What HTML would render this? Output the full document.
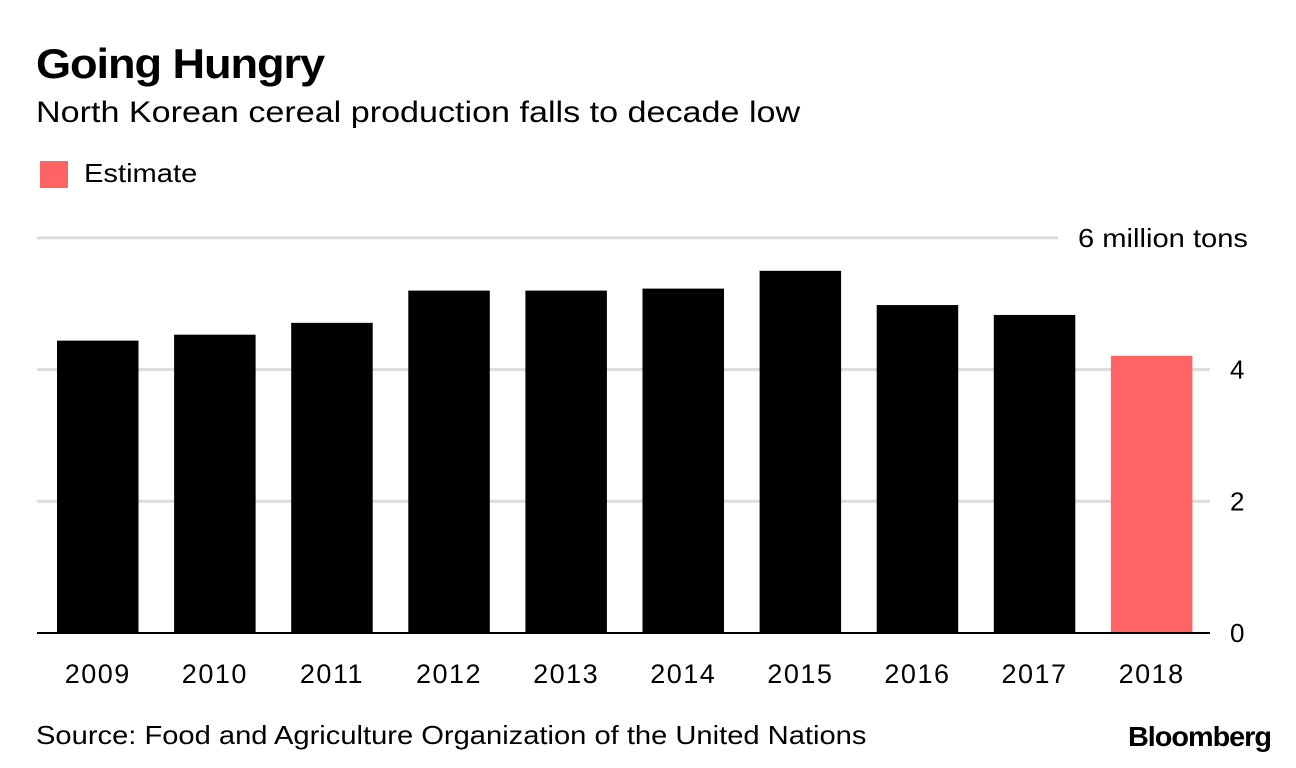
<!DOCTYPE html>
<html><head><meta charset="utf-8"><style>
body{margin:0;background:#fff;font-family:"Liberation Sans",sans-serif;}
#wrap{position:relative;width:1296px;height:768px;overflow:hidden;}
.t{position:absolute;white-space:nowrap;color:#000;transform-origin:0 0;}
</style></head><body>
<div id="wrap">
<div class="t" style="left:36px;top:40px;font-size:42px;font-weight:bold;letter-spacing:-1px;transform:scaleX(1.075);">Going Hungry</div>
<div class="t" style="left:36px;top:96px;font-size:30px;transform:scaleX(1.137);">North Korean cereal production falls to decade low</div>
<div style="position:absolute;left:40px;top:161px;width:28px;height:27px;background:#ff6464;"></div>
<div class="t" style="left:84px;top:158px;font-size:26px;transform:scaleX(1.12);">Estimate</div>
<svg id="chart" width="1296" height="768" style="position:absolute;left:0;top:0"></svg>
<div class="t" style="left:36px;top:720px;font-size:26px;transform:scaleX(1.12);">Source: Food and Agriculture Organization of the United Nations</div>
<div class="t" style="left:1128px;top:721px;font-size:28px;font-weight:bold;letter-spacing:-1px;transform:scaleX(1.03);">Bloomberg</div>
</div>
<script>
const years=["2009","2010","2011","2012","2013","2014","2015","2016","2017","2018"];
const values=[4.44,4.53,4.71,5.20,5.20,5.23,5.50,4.98,4.83,4.21];
const estimate=[false,false,false,false,false,false,false,false,false,true];
const ticks=[0,2,4,6];
const tickLabels=["0","2","4","6 million tons"];
const svg=document.getElementById('chart');
const NS='http://www.w3.org/2000/svg';
const y0=633,pxPer=65.85;
function y(v){return y0-v*pxPer;}
function x(i){return 57+i*117.1;}
const bw=81.5;
function mk(t,a){const e=document.createElementNS(NS,t);for(const k in a)e.setAttribute(k,a[k]);svg.appendChild(e);return e;}
ticks.forEach((t,i)=>{
  if(t>0){const l=mk('line',{x1:37,x2:i===3?1058:1210,y1:y(t),y2:y(t),stroke:'#dcdcdc','stroke-width':3});
  
  }
  const a={x:i===3?1078:1230,y:y(t)+9,'font-size':26,'font-family':'Liberation Sans, sans-serif'};
  if(i===3){a.textLength=170;a.lengthAdjust='spacingAndGlyphs';}
  const tx=mk('text',a);
  tx.textContent=tickLabels[i];
  
  
});
values.forEach((v,i)=>{
  const r=mk('rect',{x:x(i),y:y(v),width:bw,height:y0-y(v),fill:estimate[i]?'#ff6464':'#000'});
  
  
  const tx=mk('text',{x:x(i)+bw/2,y:683,'font-size':27,'letter-spacing':'1.5','text-anchor':'middle','font-family':'Liberation Sans, sans-serif'});
  tx.textContent=years[i];
  
  
});
const ax=mk('line',{x1:37,x2:1210,y1:y0,y2:y0,stroke:'#000','stroke-width':2});


</script>
</body></html>
